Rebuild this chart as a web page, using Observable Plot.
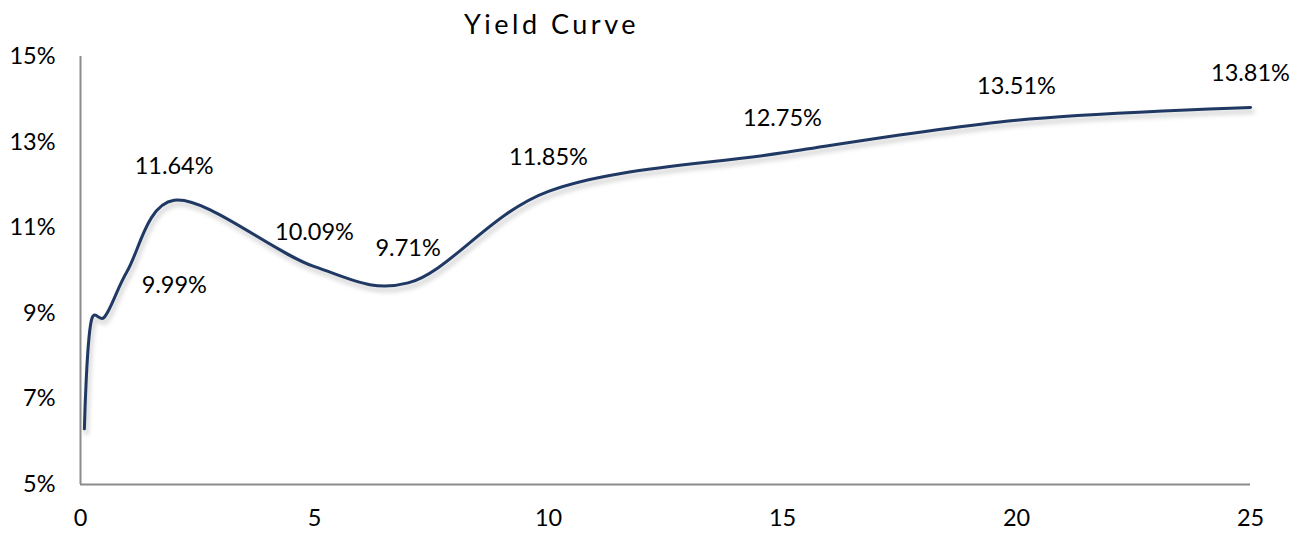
<!DOCTYPE html>
<html>
<head>
<meta charset="utf-8">
<script src="https://cdn.jsdelivr.net/npm/d3@7"></script>
<script src="https://cdn.jsdelivr.net/npm/@observablehq/plot@0.6"></script>
<style>
  html, body { margin: 0; padding: 0; background: #fff; }
  #chart svg { display: block; font-family: Lato, "Open Sans", sans-serif; }
</style>
</head>
<body>
<div id="chart"></div>
<script>
const title = "Yield Curve";
const maturities = [0.083, 0.25, 0.5, 1, 2, 5, 7, 10, 15, 20, 25];
const yields = [6.30, 8.90, 8.90, 9.99, 11.64, 10.09, 9.71, 11.85, 12.75, 13.51, 13.81];
const labeled = [false, false, false, true, true, true, true, true, true, true, true];
const xTicks = [0, 5, 10, 15, 20, 25];
const yTicks = [5, 7, 9, 11, 13, 15];

const data = maturities.map((m, i) => ({x: m, y: yields[i], label: yields[i].toFixed(2) + "%", show: labeled[i]}));
const mainLabels = data.filter(d => d.show && d.x !== 1);
const oneYear = data.filter(d => d.show && d.x === 1);

const chart = Plot.plot({
  width: 1298,
  height: 533,
  marginLeft: 80,
  marginRight: 48,
  marginTop: 56,
  marginBottom: 49,
  style: {fontFamily: "Lato, 'Open Sans', sans-serif", fontSize: "23.5px", color: "#000", background: "#fff"},
  x: {domain: [0, 25], ticks: xTicks, tickSize: 0, tickPadding: 25, label: null},
  y: {domain: [5, 15], ticks: yTicks, tickSize: 0, tickPadding: 25, tickFormat: d => d + "%", label: null},
  marks: [
    Plot.ruleY([5], {stroke: "#8c8c8c", strokeWidth: 2}),
    Plot.ruleX([0], {stroke: "#8c8c8c", strokeWidth: 2}),
    Plot.line(data, {x: "x", y: "y", curve: "catmull-rom", tension: 0.25, stroke: "#b0b0b0", strokeWidth: 5, strokeOpacity: 0.45, dx: 2, dy: 4}),
    Plot.line(data, {x: "x", y: "y", curve: "catmull-rom", tension: 0.25, stroke: "#1f3864", strokeWidth: 3}),
    Plot.text(mainLabels, {x: "x", y: "y", text: "label", dy: -34, fontSize: 23.5, fill: "#000"}),
    Plot.text(oneYear, {x: "x", y: "y", text: "label", dx: 47, dy: 15, fontSize: 23.5, fill: "#000"}),
    Plot.text([title], {frameAnchor: "top", lineAnchor: "middle", dx: -114, dy: -31, fontSize: 27, fill: "#000"})
  ]
});
document.getElementById("chart").appendChild(chart);
const lines = chart.querySelectorAll('g[aria-label="line"]');
if (lines.length) lines[0].setAttribute("style", "filter: blur(2px)");
chart.querySelectorAll('g[aria-label="text"] text').forEach(t => {
  if (t.textContent === title) t.setAttribute("letter-spacing", "3.5");
});
</script>
</body>
</html>
